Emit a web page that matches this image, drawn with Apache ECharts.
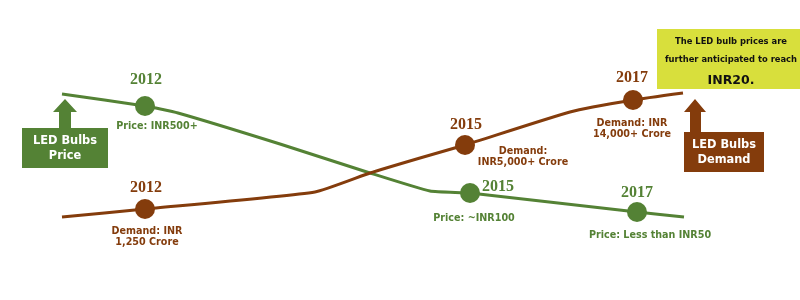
<!DOCTYPE html>
<html>
<head>
<meta charset="utf-8">
<script src="https://cdn.jsdelivr.net/npm/echarts@6/dist/echarts.min.js"></script>
<style>html,body{margin:0;padding:0;background:#fff;}#c{width:800px;height:300px;}</style>
</head>
<body>
<div id="c"></div>
<script>
// ---- data (in chart units: x 0..800, y 0..300 top-down) ----
const years = ['2012', '2015', '2017'];

const priceLineX = [62, 145, 178, 280, 370, 430, 470, 637, 684];
const priceLineY = [94, 106, 113, 144, 173, 191, 193, 212, 217];
const demandLineX = [62, 145, 315, 370, 420, 465, 570, 633, 683];
const demandLineY = [217, 209, 192, 173, 158, 145, 112, 100, 93];

const priceMarkX = [145, 470, 637];
const priceMarkY = [106, 193, 212];
const demandMarkX = [145, 465, 633];
const demandMarkY = [209, 145, 100];

const priceTexts = ['Price: INR500+', 'Price: ~INR100', 'Price: Less than INR50'];
const demandTexts = ['Demand: INR\n1,250 Crore', 'Demand:\nINR5,000+ Crore', 'Demand: INR\n14,000+ Crore'];

const calloutLines = ['The LED bulb prices are', 'further anticipated to reach', 'INR20.'];
const priceBoxText = 'LED Bulbs\nPrice';
const demandBoxText = 'LED Bulbs\nDemand';

// ---- styles ----
const GREEN = '#548235';
const BROWN = '#843c0c';
const YELLOW = '#d8df3c';
const yearFont = { fontFamily: 'Liberation Serif', fontWeight: 'bold', fontSize: 16, textBorderWidth: 0 };
const labFont = { fontFamily: 'DejaVu Sans', fontWeight: 'bold', fontSize: 9.6, lineHeight: 11, textBorderWidth: 0 };

const priceYearOff = [[1, -26], [28, -6], [0, -19]];
const priceTextOff = [[12, 20], [4, 25], [13, 23]];
const demandYearOff = [[1, -21], [1, -20], [-1, -22]];
const demandTextOff = [[2, 28], [58, 12], [-1, 29]];

function zip(a, b) { return a.map((v, i) => [v, b[i]]); }

function markerData(xs, ys, offs, color) {
  return xs.map((x, i) => ({
    value: [x, ys[i]],
    label: Object.assign({ show: true, position: 'inside', offset: offs[i], formatter: years[i], color: color }, yearFont)
  }));
}
function textData(xs, ys, texts, offs, color) {
  return xs.map((x, i) => ({
    value: [x, ys[i]],
    label: Object.assign({ show: true, position: 'inside', offset: offs[i], formatter: texts[i], color: color, align: 'center' }, labFont)
  }));
}

const chart = echarts.init(document.getElementById('c'), null, { renderer: 'canvas' });

const boxFont = { fontFamily: 'DejaVu Sans', fontWeight: 'bold', fontSize: 11.4, lineHeight: 15, fill: '#fff', align: 'center', verticalAlign: 'middle' };
const calloutFont = { fontFamily: 'DejaVu Sans', fontWeight: 'bold', fontSize: 8.4, fill: '#111', align: 'center', verticalAlign: 'middle' };

chart.setOption({
  animation: false,
  backgroundColor: '#fff',
  grid: { left: 0, right: 0, top: 0, bottom: 0 },
  xAxis: { type: 'value', min: 0, max: 800, show: false },
  yAxis: { type: 'value', min: 0, max: 300, inverse: true, show: false },
  series: [
    { type: 'line', data: zip(priceLineX, priceLineY), showSymbol: false, smooth: 0.15,
      lineStyle: { color: GREEN, width: 3 }, z: 2 },
    { type: 'line', data: zip(demandLineX, demandLineY), showSymbol: false, smooth: 0.15,
      lineStyle: { color: BROWN, width: 3 }, z: 2 },
    { type: 'scatter', symbolSize: 20, itemStyle: { color: GREEN, opacity: 1 },
      data: markerData(priceMarkX, priceMarkY, priceYearOff, GREEN), z: 3 },
    { type: 'scatter', symbolSize: 20, itemStyle: { color: BROWN, opacity: 1 },
      data: markerData(demandMarkX, demandMarkY, demandYearOff, BROWN), z: 3 },
    { type: 'scatter', symbolSize: 0, itemStyle: { color: GREEN, opacity: 1 },
      data: textData(priceMarkX, priceMarkY, priceTexts, priceTextOff, GREEN), z: 3 },
    { type: 'scatter', symbolSize: 0, itemStyle: { color: BROWN, opacity: 1 },
      data: textData(demandMarkX, demandMarkY, demandTexts, demandTextOff, BROWN), z: 3 }
  ],
  graphic: [
    // yellow callout
    { type: 'rect', shape: { x: 657, y: 29, width: 143, height: 60 }, style: { fill: YELLOW }, z: 10 },
    { type: 'text', x: 731, y: 42, style: Object.assign({ text: calloutLines[0] }, calloutFont), z: 11 },
    { type: 'text', x: 731, y: 60, style: Object.assign({ text: calloutLines[1] }, calloutFont), z: 11 },
    { type: 'text', x: 731, y: 81, style: Object.assign({ text: calloutLines[2] }, calloutFont, { fontSize: 12.5 }), z: 11 },
    // price arrow + box
    { type: 'polygon', shape: { points: [[65, 99], [77, 112], [71, 112], [71, 129], [59, 129], [59, 112], [53, 112]] }, style: { fill: GREEN }, z: 10 },
    { type: 'rect', shape: { x: 22, y: 128, width: 86, height: 40 }, style: { fill: GREEN }, z: 10 },
    { type: 'text', x: 65, y: 149, style: Object.assign({ text: priceBoxText }, boxFont), z: 11 },
    // demand arrow + box
    { type: 'polygon', shape: { points: [[695, 99], [706, 112], [701, 112], [701, 133], [690, 133], [690, 112], [684, 112]] }, style: { fill: BROWN }, z: 10 },
    { type: 'rect', shape: { x: 684, y: 132, width: 80, height: 40 }, style: { fill: BROWN }, z: 10 },
    { type: 'text', x: 724, y: 153, style: Object.assign({ text: demandBoxText }, boxFont), z: 11 }
  ]
});
</script>
</body>
</html>
